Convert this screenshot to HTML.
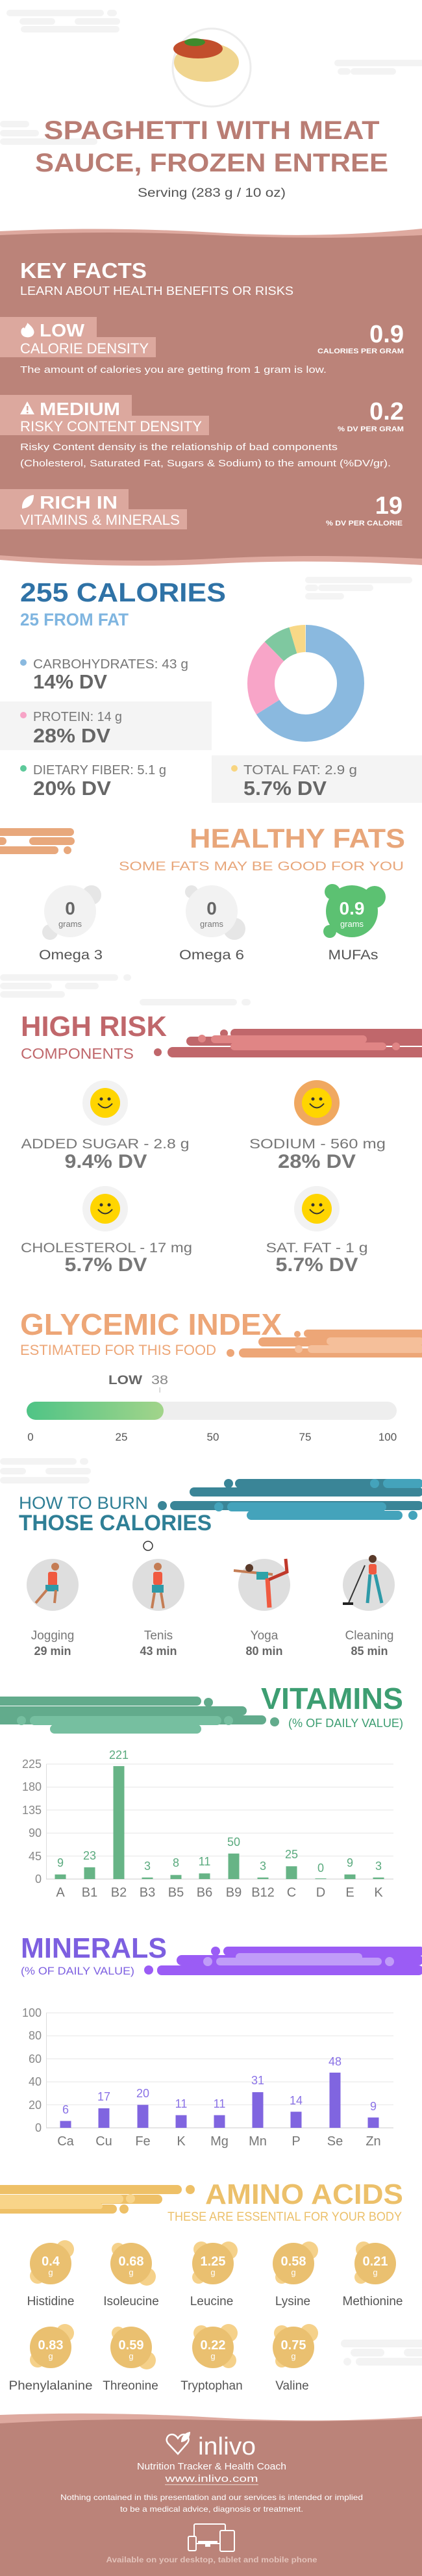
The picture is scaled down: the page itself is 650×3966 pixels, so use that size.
<!DOCTYPE html>
<html><head><meta charset="utf-8"><style>
html,body{margin:0;padding:0;background:#fff;}
svg{display:block;font-family:"Liberation Sans",sans-serif;}
</style></head><body>
<svg width="650" height="3966" viewBox="0 0 650 3966" xmlns="http://www.w3.org/2000/svg">
<defs>
<linearGradient id="gi" x1="0" x2="1" y1="0" y2="0"><stop offset="0" stop-color="#4fc486"/><stop offset="1" stop-color="#a2d48a"/></linearGradient>
</defs>
<rect width="650" height="3966" fill="#fff"/>
<!-- top clouds -->
<g fill="#f3f3f3">
<rect x="10" y="15" width="150" height="10" rx="5"/><rect x="165" y="15" width="15" height="10" rx="5"/>
<rect x="30" y="28" width="55" height="10" rx="5"/><rect x="115" y="28" width="70" height="10" rx="5"/>
<rect x="32" y="40" width="152" height="10" rx="5"/>
<rect x="515" y="92" width="140" height="10" rx="5"/><rect x="520" y="105" width="20" height="10" rx="5"/><rect x="540" y="105" width="70" height="10" rx="5"/>
<rect x="0" y="186" width="45" height="10" rx="5"/><rect x="0" y="200" width="60" height="10" rx="5"/><rect x="0" y="213" width="150" height="10" rx="5"/>
</g>
<!-- plate -->
<ellipse cx="326" cy="104" rx="60" ry="60" fill="#fff" stroke="#ececec" stroke-width="3"/>
<ellipse cx="318" cy="96" rx="50" ry="30" fill="#f0d58f"/>
<ellipse cx="305" cy="75" rx="38" ry="15" fill="#c24e2c"/>
<ellipse cx="300" cy="65" rx="16" ry="6" fill="#3f8a2c"/>
<!-- title -->
<text x="326" y="214" font-size="40" font-weight="bold" fill="#b97d74" text-anchor="middle" textLength="517" lengthAdjust="spacingAndGlyphs">SPAGHETTI WITH MEAT</text>
<text x="326" y="264" font-size="40" font-weight="bold" fill="#b97d74" text-anchor="middle" textLength="544" lengthAdjust="spacingAndGlyphs">SAUCE, FROZEN ENTREE</text>
<text x="326" y="303" font-size="19" fill="#555" text-anchor="middle" textLength="228" lengthAdjust="spacingAndGlyphs">Serving (283 g / 10 oz)</text>
<!-- key facts band -->
<path d="M0 356 Q160 348 330 358 T650 352 L650 870 Q480 860 330 868 T0 862 Z" fill="#dea99f"/>
<path d="M0 362 Q170 354 330 362 T650 362 L650 860 Q480 852 330 860 T0 855 Z" fill="#bb8379"/>
<text x="31" y="428" font-size="33" font-weight="bold" fill="#fff" textLength="195" lengthAdjust="spacingAndGlyphs">KEY FACTS</text>
<text x="31" y="454" font-size="18" fill="#fff" textLength="421" lengthAdjust="spacingAndGlyphs">LEARN ABOUT HEALTH BENEFITS OR RISKS</text>
<g fill="#dca89e">
<rect x="0" y="488" width="149" height="32"/><rect x="0" y="519" width="240" height="31"/>
<rect x="0" y="608" width="203" height="32"/><rect x="0" y="640" width="322" height="30"/>
<rect x="0" y="753" width="198" height="32"/><rect x="0" y="784" width="288" height="31"/>
</g>
<!-- icons -->
<path d="M42 497 C50 503 54 509 52 514 C50 519 44 520 40 519 C34 518 31 513 33 507 C35 504 37 503 38 506 C39 502 42 500 42 497 Z" fill="#fff"/>
<path d="M42 618 L53 638 L31 638 Z" fill="#fff"/><rect x="41" y="625" width="2.5" height="7" fill="#dca89e"/><rect x="41" y="634" width="2.5" height="2.5" fill="#dca89e"/>
<path d="M34 783 C33 770 42 763 52 762 C52 774 46 782 34 783 Z" fill="#fff"/>
<text x="61" y="518" font-size="28" font-weight="bold" fill="#fff" textLength="69" lengthAdjust="spacingAndGlyphs">LOW</text>
<text x="31" y="544" font-size="22" fill="#fff" textLength="198" lengthAdjust="spacingAndGlyphs">CALORIE DENSITY</text>
<text x="622" y="527" font-size="38" font-weight="bold" fill="#fff" text-anchor="end">0.9</text>
<text x="622" y="544" font-size="11" font-weight="bold" fill="#fff" text-anchor="end" textLength="133" lengthAdjust="spacingAndGlyphs">CALORIES PER GRAM</text>
<text x="31" y="574" font-size="15" fill="#fff" textLength="472" lengthAdjust="spacingAndGlyphs">The amount of calories you are getting from 1 gram is low.</text>
<text x="61" y="639" font-size="28" font-weight="bold" fill="#fff" textLength="124" lengthAdjust="spacingAndGlyphs">MEDIUM</text>
<text x="31" y="664" font-size="22" fill="#fff" textLength="280" lengthAdjust="spacingAndGlyphs">RISKY CONTENT DENSITY</text>
<text x="622" y="646" font-size="38" font-weight="bold" fill="#fff" text-anchor="end">0.2</text>
<text x="622" y="664" font-size="11" font-weight="bold" fill="#fff" text-anchor="end" textLength="102" lengthAdjust="spacingAndGlyphs">% DV PER GRAM</text>
<text x="31" y="693" font-size="15" fill="#fff" textLength="489" lengthAdjust="spacingAndGlyphs">Risky Content density is the relationship of bad components</text>
<text x="31" y="718" font-size="15" fill="#fff" textLength="571" lengthAdjust="spacingAndGlyphs">(Cholesterol, Saturated Fat, Sugars &amp; Sodium) to the amount (%DV/gr).</text>
<text x="61" y="783" font-size="28" font-weight="bold" fill="#fff" textLength="120" lengthAdjust="spacingAndGlyphs">RICH  IN</text>
<text x="31" y="808" font-size="22" fill="#fff" textLength="246" lengthAdjust="spacingAndGlyphs">VITAMINS &amp; MINERALS</text>
<text x="620" y="791" font-size="38" font-weight="bold" fill="#fff" text-anchor="end">19</text>
<text x="620" y="809" font-size="11" font-weight="bold" fill="#fff" text-anchor="end" textLength="118" lengthAdjust="spacingAndGlyphs">% DV PER CALORIE</text>

<!-- calories -->
<g fill="#f4f4f4">
<rect x="470" y="888" width="165" height="10" rx="5"/><rect x="470" y="900" width="20" height="10" rx="5"/><rect x="490" y="900" width="85" height="10" rx="5"/><rect x="470" y="913" width="60" height="10" rx="5"/>
</g>
<text x="31" y="926" font-size="41" font-weight="bold" fill="#2f72a6" textLength="317" lengthAdjust="spacingAndGlyphs">255 CALORIES</text>
<text x="31" y="963" font-size="27" font-weight="bold" fill="#7fb5e0" textLength="167" lengthAdjust="spacingAndGlyphs">25 FROM FAT</text>
<rect x="0" y="1080" width="326" height="75" fill="#f4f4f4"/>
<rect x="326" y="1163" width="324" height="73" fill="#f4f4f4"/>
<circle cx="36" cy="1020" r="5" fill="#8ab9df"/>
<text x="51" y="1029" font-size="20" fill="#777" textLength="239" lengthAdjust="spacingAndGlyphs">CARBOHYDRATES: 43 g</text>
<text x="51" y="1060" font-size="31" font-weight="bold" fill="#666" textLength="114" lengthAdjust="spacingAndGlyphs">14% DV</text>
<circle cx="36" cy="1101" r="5" fill="#f7a3c6"/>
<text x="51" y="1110" font-size="20" fill="#777" textLength="137" lengthAdjust="spacingAndGlyphs">PROTEIN: 14 g</text>
<text x="51" y="1143" font-size="31" font-weight="bold" fill="#666" textLength="119" lengthAdjust="spacingAndGlyphs">28% DV</text>
<circle cx="36" cy="1183" r="5" fill="#5dc99a"/>
<text x="51" y="1192" font-size="20" fill="#777" textLength="205" lengthAdjust="spacingAndGlyphs">DIETARY FIBER: 5.1 g</text>
<text x="51" y="1224" font-size="31" font-weight="bold" fill="#666" textLength="120" lengthAdjust="spacingAndGlyphs">20% DV</text>
<circle cx="361" cy="1183" r="5" fill="#f8d580"/>
<text x="375" y="1192" font-size="20" fill="#777" textLength="175" lengthAdjust="spacingAndGlyphs">TOTAL FAT: 2.9 g</text>
<text x="375" y="1224" font-size="31" font-weight="bold" fill="#666" textLength="128" lengthAdjust="spacingAndGlyphs">5.7% DV</text>
<g transform="rotate(-90 471 1052)" fill="none" stroke-width="42">
<circle cx="471" cy="1052" r="69" pathLength="100" stroke="#8ab9df" stroke-dasharray="66.15 100"/>
<circle cx="471" cy="1052" r="69" pathLength="100" stroke="#f8a5c8" stroke-dasharray="21.54 100" stroke-dashoffset="-66.15"/>
<circle cx="471" cy="1052" r="69" pathLength="100" stroke="#7fc8a0" stroke-dasharray="7.85 100" stroke-dashoffset="-87.69"/>
<circle cx="471" cy="1052" r="69" pathLength="100" stroke="#f8d887" stroke-dasharray="4.46 100" stroke-dashoffset="-95.54"/>
</g>

<!-- healthy fats -->
<g fill="#e8a87c">
<rect x="-10" y="1275" width="124" height="12" rx="6"/><rect x="-10" y="1289" width="20" height="12" rx="6"/><rect x="45" y="1289" width="70" height="12" rx="6"/>
<rect x="-10" y="1303" width="100" height="12" rx="6"/><circle cx="104" cy="1309" r="6"/>
</g>
<text x="624" y="1305" font-size="42" font-weight="bold" fill="#e8a67a" text-anchor="end" textLength="332" lengthAdjust="spacingAndGlyphs">HEALTHY FATS</text>
<text x="622" y="1340" font-size="19" fill="#e8a67a" text-anchor="end" textLength="439" lengthAdjust="spacingAndGlyphs">SOME FATS MAY BE GOOD FOR YOU</text>
<g fill="#e6e6e6"><circle cx="141" cy="1378" r="15"/><circle cx="77" cy="1435" r="12"/><circle cx="295" cy="1373" r="10"/><circle cx="361" cy="1430" r="17"/></g>
<g fill="#f2f2f2"><circle cx="108" cy="1403" r="40"/><circle cx="326" cy="1403" r="40"/></g>
<g fill="#5cc172"><circle cx="512" cy="1373" r="12"/><circle cx="577" cy="1381" r="17"/><circle cx="508" cy="1434" r="10"/><circle cx="542" cy="1403" r="40"/></g>
<text x="108" y="1408" font-size="28" font-weight="bold" fill="#666" text-anchor="middle">0</text>
<text x="108" y="1427" font-size="13" fill="#777" text-anchor="middle">grams</text>
<text x="326" y="1408" font-size="28" font-weight="bold" fill="#666" text-anchor="middle">0</text>
<text x="326" y="1427" font-size="13" fill="#777" text-anchor="middle">grams</text>
<text x="542" y="1408" font-size="28" font-weight="bold" fill="#fff" text-anchor="middle">0.9</text>
<text x="542" y="1427" font-size="13" fill="#fff" text-anchor="middle">grams</text>
<text x="109" y="1477" font-size="21" fill="#555" text-anchor="middle" textLength="98" lengthAdjust="spacingAndGlyphs">Omega 3</text>
<text x="326" y="1477" font-size="21" fill="#555" text-anchor="middle" textLength="100" lengthAdjust="spacingAndGlyphs">Omega 6</text>
<text x="544" y="1477" font-size="21" fill="#555" text-anchor="middle" textLength="77" lengthAdjust="spacingAndGlyphs">MUFAs</text>
<g fill="#f3f3f3">
<rect x="0" y="1500" width="182" height="10" rx="5"/><rect x="190" y="1500" width="12" height="10" rx="5"/><rect x="0" y="1513" width="80" height="10" rx="5"/><rect x="100" y="1513" width="52" height="10" rx="5"/><rect x="0" y="1526" width="100" height="10" rx="5"/>
<rect x="215" y="1538" width="150" height="10" rx="5"/><rect x="372" y="1538" width="14" height="10" rx="5"/>
</g>

<!-- high risk -->
<text x="32" y="1595" font-size="44" font-weight="bold" fill="#c0676b" textLength="225" lengthAdjust="spacingAndGlyphs">HIGH RISK</text>
<text x="32" y="1630" font-size="23" fill="#c0676b" textLength="174" lengthAdjust="spacingAndGlyphs">COMPONENTS</text>
<g fill="#c0676b">
<rect x="355" y="1584" width="300" height="14" rx="7"/><circle cx="345" cy="1591" r="6"/>
<rect x="287" y="1596" width="370" height="14" rx="7"/>
<rect x="258" y="1612" width="400" height="16" rx="8"/><circle cx="243" cy="1620" r="6"/>
</g>
<g fill="#e08585">
<circle cx="311" cy="1599" r="6"/><rect x="325" y="1594" width="240" height="12" rx="6"/>
<rect x="355" y="1605" width="240" height="12" rx="6"/><circle cx="610" cy="1611" r="6"/>
</g>
<!-- smileys -->
<g>
<circle cx="162" cy="1698" r="35" fill="#f2f2f2"/><circle cx="488" cy="1698" r="35" fill="#f0a860"/>
<circle cx="162" cy="1861" r="35" fill="#f2f2f2"/><circle cx="488" cy="1861" r="35" fill="#f2f2f2"/>
<g fill="#ffd500"><circle cx="162" cy="1698" r="23"/><circle cx="488" cy="1698" r="23"/><circle cx="162" cy="1861" r="23"/><circle cx="488" cy="1861" r="23"/></g>
<g fill="#333"><circle cx="156" cy="1692" r="2.5"/><circle cx="168" cy="1692" r="2.5"/><circle cx="482" cy="1692" r="2.5"/><circle cx="494" cy="1692" r="2.5"/>
<circle cx="156" cy="1855" r="2.5"/><circle cx="168" cy="1855" r="2.5"/><circle cx="482" cy="1855" r="2.5"/><circle cx="494" cy="1855" r="2.5"/></g>
<g fill="none" stroke="#333" stroke-width="2">
<path d="M151 1699 Q162 1712 173 1699"/><path d="M477 1699 Q488 1712 499 1699"/><path d="M151 1862 Q162 1875 173 1862"/><path d="M477 1862 Q488 1875 499 1862"/></g>
</g>
<text x="162" y="1768" font-size="21" fill="#777" text-anchor="middle" textLength="259" lengthAdjust="spacingAndGlyphs">ADDED SUGAR - 2.8 g</text>
<text x="163" y="1798" font-size="30" font-weight="bold" fill="#777" text-anchor="middle" textLength="127" lengthAdjust="spacingAndGlyphs">9.4% DV</text>
<text x="489" y="1768" font-size="21" fill="#777" text-anchor="middle" textLength="210" lengthAdjust="spacingAndGlyphs">SODIUM - 560 mg</text>
<text x="488" y="1798" font-size="30" font-weight="bold" fill="#777" text-anchor="middle" textLength="120" lengthAdjust="spacingAndGlyphs">28% DV</text>
<text x="164" y="1928" font-size="21" fill="#777" text-anchor="middle" textLength="264" lengthAdjust="spacingAndGlyphs">CHOLESTEROL - 17 mg</text>
<text x="163" y="1957" font-size="30" font-weight="bold" fill="#777" text-anchor="middle" textLength="127" lengthAdjust="spacingAndGlyphs">5.7% DV</text>
<text x="488" y="1928" font-size="21" fill="#777" text-anchor="middle" textLength="157" lengthAdjust="spacingAndGlyphs">SAT. FAT - 1 g</text>
<text x="488" y="1957" font-size="30" font-weight="bold" fill="#777" text-anchor="middle" textLength="127" lengthAdjust="spacingAndGlyphs">5.7% DV</text>

<!-- glycemic -->
<text x="31" y="2055" font-size="46" font-weight="bold" fill="#eda677" textLength="403" lengthAdjust="spacingAndGlyphs">GLYCEMIC INDEX</text>
<text x="31" y="2086" font-size="22" fill="#eda677" textLength="302" lengthAdjust="spacingAndGlyphs">ESTIMATED FOR THIS FOOD</text>
<g fill="#eda677">
<circle cx="458" cy="2054" r="5"/><rect x="468" y="2047" width="190" height="12" rx="6"/>
<rect x="398" y="2059" width="260" height="14" rx="7"/>
<circle cx="355" cy="2083" r="6"/><rect x="368" y="2076" width="290" height="14" rx="7"/>
</g>
<g fill="#f5bf9a"><rect x="503" y="2059" width="150" height="12" rx="6"/><circle cx="460" cy="2077" r="6"/><rect x="474" y="2071" width="180" height="12" rx="6"/></g>
<text x="167" y="2131" font-size="19" font-weight="bold" fill="#666" textLength="52" lengthAdjust="spacingAndGlyphs">LOW</text>
<text x="233" y="2131" font-size="19" fill="#888" textLength="26" lengthAdjust="spacingAndGlyphs">38</text>
<rect x="245.5" y="2136" width="1.5" height="8" fill="#ccc"/>
<rect x="41" y="2158" width="570" height="28" rx="14" fill="#eee"/>
<rect x="41" y="2158" width="211" height="28" rx="14" fill="url(#gi)"/>
<g font-size="17" fill="#555" text-anchor="middle">
<text x="47" y="2218">0</text><text x="187" y="2218">25</text><text x="328" y="2218">50</text><text x="470" y="2218">75</text><text x="597" y="2218">100</text></g>

<!-- burn -->
<g fill="#f3f3f3">
<rect x="0" y="2245" width="118" height="10" rx="5"/><rect x="123" y="2245" width="13" height="10" rx="5"/>
<rect x="0" y="2260" width="40" height="10" rx="5"/><rect x="70" y="2260" width="70" height="10" rx="5"/>
<rect x="0" y="2274" width="138" height="10" rx="5"/>
</g>
<g fill="#3a8597">
<circle cx="352" cy="2284" r="7"/><rect x="362" y="2277" width="290" height="14" rx="7"/>
<rect x="292" y="2290" width="360" height="14" rx="7"/>
<circle cx="250" cy="2318" r="7"/><rect x="262" y="2311" width="390" height="14" rx="7"/>
</g>
<g fill="#44a3bb">
<circle cx="577" cy="2284" r="7"/><rect x="590" y="2277" width="62" height="14" rx="7"/>
<circle cx="337" cy="2320" r="7"/><rect x="350" y="2313" width="245" height="14" rx="7"/>
<rect x="380" y="2326" width="240" height="14" rx="7"/><circle cx="636" cy="2333" r="7"/>
</g>
<text x="29" y="2323" font-size="27" fill="#2f7f96" textLength="199" lengthAdjust="spacingAndGlyphs">HOW TO BURN</text>
<text x="29" y="2356" font-size="34" font-weight="bold" fill="#2f7f96" textLength="297" lengthAdjust="spacingAndGlyphs">THOSE CALORIES</text>
<g fill="#dedede"><circle cx="81" cy="2440" r="40"/><circle cx="244" cy="2440" r="40"/><circle cx="407" cy="2440" r="40"/><circle cx="568" cy="2440" r="40"/></g>
<!-- simple figures -->
<g>
<rect x="74" y="2420" width="14" height="22" rx="3" fill="#f05a40"/><circle cx="85" cy="2412" r="6" fill="#c47d55"/><rect x="70" y="2440" width="20" height="10" fill="#2e9aa8"/><path d="M72 2448 L55 2468 M86 2448 L84 2468" stroke="#c47d55" stroke-width="4"/>
<rect x="236" y="2420" width="14" height="20" rx="3" fill="#f05a40"/><circle cx="243" cy="2412" r="6" fill="#c47d55"/><rect x="234" y="2440" width="18" height="12" fill="#2e9aa8"/><path d="M238 2452 L234 2476 M248 2452 L252 2476" stroke="#c47d55" stroke-width="4"/><circle cx="228" cy="2380" r="7" fill="none" stroke="#333" stroke-width="1.5"/>
<path d="M360 2418 L420 2424" stroke="#c47d55" stroke-width="4"/><rect x="395" y="2420" width="18" height="12" fill="#2ea3a8"/><path d="M412 2430 L415 2475" stroke="#f05a40" stroke-width="7"/><path d="M414 2432 L442 2420 L440 2400" stroke="#c0392b" stroke-width="5" fill="none"/><circle cx="384" cy="2414" r="6" fill="#5a3a2a"/>
<rect x="568" y="2408" width="12" height="16" rx="3" fill="#f05a40"/><circle cx="574" cy="2400" r="6" fill="#5a3a2a"/><path d="M570 2424 L566 2468 M578 2424 L588 2468" stroke="#2e9aa8" stroke-width="5"/><path d="M562 2410 L536 2470" stroke="#333" stroke-width="2"/><rect x="528" y="2467" width="16" height="4" fill="#222"/>
</g>
<g font-size="19" fill="#777" text-anchor="middle">
<text x="81" y="2524">Jogging</text><text x="244" y="2524">Tenis</text><text x="407" y="2524">Yoga</text><text x="569" y="2524">Cleaning</text></g>
<g font-size="18" font-weight="bold" fill="#666" text-anchor="middle">
<text x="81" y="2548">29 min</text><text x="244" y="2548">43 min</text><text x="407" y="2548">80 min</text><text x="569" y="2548">85 min</text></g>

<!-- vitamins -->
<g fill="#62ab8c">
<rect x="-10" y="2612" width="320" height="14" rx="7"/><circle cx="321" cy="2621" r="7"/>
<rect x="-10" y="2627" width="390" height="14" rx="7"/>
<rect x="-10" y="2641" width="420" height="14" rx="7"/><circle cx="423" cy="2651" r="7"/>
</g>
<g fill="#76bfa0"><circle cx="33" cy="2649" r="7"/><rect x="46" y="2642" width="295" height="14" rx="7"/><circle cx="352" cy="2649" r="7"/><rect x="77" y="2655" width="233" height="14" rx="7"/></g>
<text x="621" y="2631" font-size="46" font-weight="bold" fill="#3d9e72" text-anchor="end" textLength="219" lengthAdjust="spacingAndGlyphs">VITAMINS</text>
<text x="621" y="2659" font-size="18" fill="#3d9e72" text-anchor="end" textLength="177" lengthAdjust="spacingAndGlyphs">(% OF DAILY VALUE)</text>
<g stroke="#e6e6e6" stroke-width="1">
<line x1="71" y1="2716" x2="606" y2="2716"/><line x1="71" y1="2751.4" x2="606" y2="2751.4"/><line x1="71" y1="2786.8" x2="606" y2="2786.8"/><line x1="71" y1="2822.2" x2="606" y2="2822.2"/><line x1="71" y1="2857.6" x2="606" y2="2857.6"/></g>
<line x1="71" y1="2893" x2="606" y2="2893" stroke="#ccc"/><line x1="71.5" y1="2716" x2="71.5" y2="2893" stroke="#ddd"/>
<g font-size="18" fill="#888" text-anchor="end">
<text x="64" y="2722">225</text><text x="64" y="2757">180</text><text x="64" y="2793">135</text><text x="64" y="2828">90</text><text x="64" y="2864">45</text><text x="64" y="2899">0</text></g>
<g fill="#67b486">
<rect x="84.5" y="2885.9" width="17" height="7.1"/><rect x="129.5" y="2874.9" width="17" height="18.1"/><rect x="174.5" y="2719.1" width="17" height="173.9"/><rect x="218.5" y="2890.6" width="17" height="2.4"/><rect x="262.5" y="2886.7" width="17" height="6.3"/><rect x="306.5" y="2884.3" width="17" height="8.7"/><rect x="351.5" y="2853.7" width="17" height="39.3"/><rect x="396.5" y="2890.6" width="17" height="2.4"/><rect x="440.5" y="2873.3" width="17" height="19.7"/><rect x="485.5" y="2892" width="17" height="1"/><rect x="530.5" y="2885.9" width="17" height="7.1"/><rect x="574.5" y="2890.6" width="17" height="2.4"/></g>
<g font-size="18" fill="#5aaa7e" text-anchor="middle">
<text x="93" y="2874">9</text><text x="138" y="2863">23</text><text x="183" y="2708">221</text><text x="227" y="2879">3</text><text x="271" y="2874">8</text><text x="315" y="2872">11</text><text x="360" y="2842">50</text><text x="405" y="2879">3</text><text x="449" y="2861">25</text><text x="494" y="2882">0</text><text x="539" y="2874">9</text><text x="583" y="2879">3</text></g>
<g font-size="20" fill="#777" text-anchor="middle">
<text x="93" y="2920">A</text><text x="138" y="2920">B1</text><text x="183" y="2920">B2</text><text x="227" y="2920">B3</text><text x="271" y="2920">B5</text><text x="315" y="2920">B6</text><text x="360" y="2920">B9</text><text x="405" y="2920">B12</text><text x="449" y="2920">C</text><text x="494" y="2920">D</text><text x="539" y="2920">E</text><text x="583" y="2920">K</text></g>

<!-- minerals -->
<g fill="#9b5cf5">
<circle cx="332" cy="3004" r="7"/><rect x="344" y="2997" width="310" height="14" rx="7"/>
<rect x="272" y="3010" width="380" height="16" rx="8"/>
<circle cx="229" cy="3033" r="7"/><rect x="242" y="3026" width="410" height="15" rx="7"/></g>
<g fill="#c09cf8"><rect x="363" y="3007" width="195" height="12" rx="6"/><circle cx="320" cy="3020" r="7"/><rect x="333" y="3014" width="255" height="12" rx="6"/><circle cx="600" cy="3020" r="7"/></g>
<text x="32" y="3014" font-size="44" font-weight="bold" fill="#7d5fe0" textLength="225" lengthAdjust="spacingAndGlyphs">MINERALS</text>
<text x="32" y="3040" font-size="17" fill="#7d5fe0" textLength="175" lengthAdjust="spacingAndGlyphs">(% OF DAILY VALUE)</text>
<g stroke="#e6e6e6"><line x1="71" y1="3099" x2="606" y2="3099"/><line x1="71" y1="3134.4" x2="606" y2="3134.4"/><line x1="71" y1="3169.8" x2="606" y2="3169.8"/><line x1="71" y1="3205.2" x2="606" y2="3205.2"/><line x1="71" y1="3240.6" x2="606" y2="3240.6"/></g>
<line x1="71" y1="3276" x2="606" y2="3276" stroke="#ccc"/><line x1="71.5" y1="3099" x2="71.5" y2="3276" stroke="#ddd"/>
<g font-size="18" fill="#888" text-anchor="end">
<text x="64" y="3105">100</text><text x="64" y="3140">80</text><text x="64" y="3176">60</text><text x="64" y="3211">40</text><text x="64" y="3247">20</text><text x="64" y="3282">0</text></g>
<g fill="#8065e0">
<rect x="92.5" y="3265.4" width="17" height="10.6"/><rect x="151.5" y="3245.9" width="17" height="30.1"/><rect x="211.5" y="3240.6" width="17" height="35.4"/><rect x="270.5" y="3256.5" width="17" height="19.5"/><rect x="329.5" y="3256.5" width="17" height="19.5"/><rect x="388.5" y="3221.1" width="17" height="54.9"/><rect x="447.5" y="3251.2" width="17" height="24.8"/><rect x="507.5" y="3191" width="17" height="85"/><rect x="566.5" y="3260.1" width="17" height="15.9"/></g>
<g font-size="18" fill="#8a72e6" text-anchor="middle">
<text x="101" y="3254">6</text><text x="160" y="3234">17</text><text x="220" y="3229">20</text><text x="279" y="3245">11</text><text x="338" y="3245">11</text><text x="397" y="3209">31</text><text x="456" y="3240">14</text><text x="516" y="3180">48</text><text x="575" y="3249">9</text></g>
<g font-size="20" fill="#777" text-anchor="middle">
<text x="101" y="3303">Ca</text><text x="160" y="3303">Cu</text><text x="220" y="3303">Fe</text><text x="279" y="3303">K</text><text x="338" y="3303">Mg</text><text x="397" y="3303">Mn</text><text x="456" y="3303">P</text><text x="516" y="3303">Se</text><text x="575" y="3303">Zn</text></g>

<!-- amino -->
<g fill="#eec067">
<rect x="-10" y="3364" width="290" height="14" rx="7"/><circle cx="293" cy="3371" r="7"/>
<rect x="-10" y="3379" width="260" height="14" rx="7"/>
<rect x="-10" y="3394" width="190" height="14" rx="7"/><circle cx="191" cy="3401" r="7"/></g>
<g fill="#f8d489"><rect x="-10" y="3379" width="200" height="13" rx="6"/><circle cx="201" cy="3385" r="7"/><rect x="-10" y="3392" width="168" height="9" rx="4"/></g>
<text x="621" y="3393" font-size="44" font-weight="bold" fill="#ecc06a" text-anchor="end" textLength="305" lengthAdjust="spacingAndGlyphs">AMINO ACIDS</text>
<text x="619" y="3419" font-size="19" fill="#ecc06a" text-anchor="end" textLength="361" lengthAdjust="spacingAndGlyphs">THESE ARE ESSENTIAL FOR YOUR BODY</text>
<g fill="#f5d18a">
<circle cx="100" cy="3463" r="14"/><circle cx="58" cy="3504" r="12"/>
<circle cx="182" cy="3463" r="10"/><circle cx="226" cy="3505" r="14"/>
<circle cx="310" cy="3463" r="12"/><circle cx="352" cy="3465" r="14"/><circle cx="306" cy="3506" r="10"/>
<circle cx="476" cy="3465" r="14"/><circle cx="434" cy="3506" r="10"/>
<circle cx="560" cy="3463" r="12"/><circle cx="556" cy="3506" r="10"/>
<circle cx="100" cy="3592" r="14"/><circle cx="58" cy="3633" r="12"/>
<circle cx="182" cy="3592" r="10"/><circle cx="226" cy="3634" r="14"/>
<circle cx="310" cy="3592" r="12"/><circle cx="352" cy="3592" r="14"/><circle cx="352" cy="3634" r="12"/>
<circle cx="434" cy="3592" r="12"/><circle cx="476" cy="3592" r="14"/><circle cx="434" cy="3635" r="10"/></g>
<g fill="#eac070">
<circle cx="78" cy="3485" r="32"/><circle cx="202" cy="3485" r="32"/><circle cx="328" cy="3485" r="32"/><circle cx="452" cy="3485" r="32"/><circle cx="578" cy="3485" r="32"/>
<circle cx="78" cy="3614" r="32"/><circle cx="202" cy="3614" r="32"/><circle cx="328" cy="3614" r="32"/><circle cx="452" cy="3614" r="32"/></g>
<g font-size="20" font-weight="bold" fill="#fff" text-anchor="middle">
<text x="78" y="3488">0.4</text><text x="202" y="3488">0.68</text><text x="328" y="3488">1.25</text><text x="452" y="3488">0.58</text><text x="578" y="3488">0.21</text>
<text x="78" y="3617">0.83</text><text x="202" y="3617">0.59</text><text x="328" y="3617">0.22</text><text x="452" y="3617">0.75</text></g>
<g font-size="13" fill="#fff" text-anchor="middle">
<text x="78" y="3503">g</text><text x="202" y="3503">g</text><text x="328" y="3503">g</text><text x="452" y="3503">g</text><text x="578" y="3503">g</text>
<text x="78" y="3632">g</text><text x="202" y="3632">g</text><text x="328" y="3632">g</text><text x="452" y="3632">g</text></g>
<g font-size="19" fill="#555" text-anchor="middle">
<text x="78" y="3549">Histidine</text><text x="202" y="3549">Isoleucine</text><text x="326" y="3549">Leucine</text><text x="451" y="3549">Lysine</text><text x="574" y="3549">Methionine</text>
<text x="78" y="3679" textLength="129" lengthAdjust="spacingAndGlyphs">Phenylalanine</text><text x="201" y="3679">Threonine</text><text x="326" y="3679">Tryptophan</text><text x="450" y="3679">Valine</text></g>
<g fill="#f3f3f3"><rect x="525" y="3602" width="140" height="12" rx="6"/><rect x="540" y="3616" width="52" height="12" rx="6"/><rect x="622" y="3616" width="40" height="12" rx="6"/><circle cx="535" cy="3636" r="6"/><rect x="548" y="3630" width="110" height="12" rx="6"/></g>

<!-- footer -->
<path d="M0 3718 Q160 3712 330 3722 T650 3720 L650 3966 L0 3966 Z" fill="#dea99f"/>
<path d="M0 3731 Q170 3722 330 3726 T650 3724 L650 3966 L0 3966 Z" fill="#bb8379"/>
<path d="M274 3778 L259 3762 C254 3756 258 3748 265 3748 C269 3748 272 3751 274 3754 C276 3751 279 3748 283 3748 C290 3748 293 3756 288 3762 Z" fill="none" stroke="#fff" stroke-width="2.5"/>
<path d="M279 3760 C279 3750 286 3745 293 3744 C293 3753 287 3759 279 3760 Z" fill="#fff"/>
<text x="305" y="3779" font-size="38" fill="#fff" textLength="89" lengthAdjust="spacingAndGlyphs">inlivo</text>
<text x="326" y="3802" font-size="15" fill="#fff" text-anchor="middle" textLength="230" lengthAdjust="spacingAndGlyphs">Nutrition Tracker &amp; Health Coach</text>
<text x="326" y="3821" font-size="15" fill="#fff" text-anchor="middle" textLength="143" lengthAdjust="spacingAndGlyphs">www.inlivo.com</text>
<rect x="254" y="3825" width="144" height="1" fill="#e8cfc9"/>
<text x="326" y="3849" font-size="12" fill="#fff" text-anchor="middle" textLength="466" lengthAdjust="spacingAndGlyphs">Nothing contained in this presentation and our services is intended or implied</text>
<text x="326" y="3867" font-size="12" fill="#fff" text-anchor="middle" textLength="282" lengthAdjust="spacingAndGlyphs">to be a medical advice, diagnosis or treatment.</text>
<g fill="none" stroke="#fff" stroke-width="2">
<rect x="299" y="3886" width="48" height="30" rx="2"/><rect x="290" y="3905" width="12" height="22" rx="2" fill="#bb8379"/><rect x="339" y="3896" width="22" height="32" rx="2" fill="#bb8379"/></g>
<rect x="305" y="3912" width="30" height="3" fill="#fff"/><rect x="316" y="3915" width="8" height="6" fill="#fff"/>
<text x="326" y="3945" font-size="12" font-weight="bold" fill="#e2c2ba" text-anchor="middle" textLength="325" lengthAdjust="spacingAndGlyphs">Available on your desktop, tablet and mobile phone</text>
</svg>
</body></html>
